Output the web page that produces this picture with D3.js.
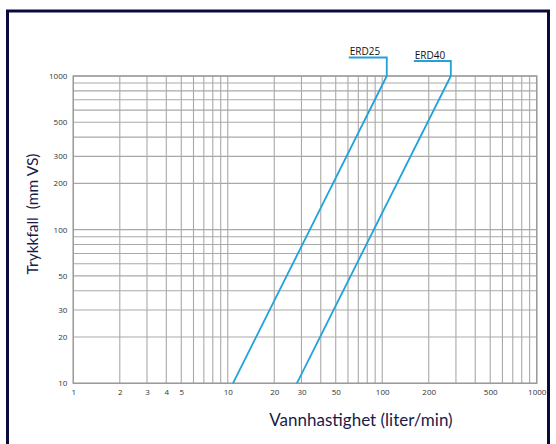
<!DOCTYPE html>
<html><head><meta charset="utf-8">
<script src="https://cdn.jsdelivr.net/npm/d3@7"></script>
<style>html,body{margin:0;padding:0;background:#fff;}svg{display:block;} text{white-space:pre;}</style>
</head><body>
<script>
// ---- data ----
const xTickLabels = [1,2,3,4,5,10,20,30,50,100,200,500,1000];
const yTickLabels = [10,20,30,50,100,200,300,500,1000];
const seriesNames = ["ERD25","ERD40"];
const flowERD25 = [10.8, 107];   // liter/min
const flowERD40 = [28, 278];
const pressure   = [10, 1000];   // mm VS
const xTitle = "Vannhastighet (liter/min)";
const yTitle = "Trykkfall  (mm VS)";

const W = 556, H = 444;
const svg = d3.select("body").append("svg").attr("width", W).attr("height", H);
svg.append("rect").attr("width", W).attr("height", H).attr("fill", "#fff");
// frame
svg.append("rect").attr("x", 7.5).attr("y", 11).attr("width", 541).attr("height", 450)
  .attr("fill", "none").attr("stroke", "#0b0b3b").attr("stroke-width", 3);

const L = 73.3, R = 536.7, T = 76, B = 383.3;
const x = d3.scaleLog().domain([1, 1000]).range([L, R]);
const y = d3.scaleLog().domain([10, 1000]).range([B, T]);

const gridCol = "#a9a9a9";
const g = svg.append("g");
// vertical grid
const xGrid = [];
[1,10,100].forEach(d => { for (let k = 1; k <= 9; k++) xGrid.push(d*k); });
xGrid.push(1000);
g.selectAll(".vx").data(xGrid).enter().append("line")
  .attr("x1", d => x(d)).attr("x2", d => x(d)).attr("y1", T).attr("y2", B)
  .attr("stroke", gridCol).attr("stroke-width", 1.1);
// horizontal grid
const yGrid = [];
[10,100].forEach(d => { for (let k = 1; k <= 9; k++) yGrid.push(d*k); });
yGrid.push(1000);
g.selectAll(".hy").data(yGrid).enter().append("line")
  .attr("x1", L).attr("x2", R).attr("y1", d => y(d)).attr("y2", d => y(d))
  .attr("stroke", gridCol).attr("stroke-width", 1.1);
// frame of plot
g.append("rect").attr("x", L).attr("y", T).attr("width", R - L).attr("height", B - T)
  .attr("fill", "none").attr("stroke", "#9a9a9a").attr("stroke-width", 1.4);

// axes tick labels
const xAxis = d3.axisBottom(x).tickValues(xTickLabels).tickFormat(d3.format("d")).tickSize(0).tickPadding(6);
const xa = svg.append("g").attr("transform", `translate(0,${B})`).call(xAxis);
xa.select(".domain").remove();
xa.selectAll("text").attr("font-family", "Open Sans, sans-serif").attr("font-size", 8).attr("fill", "#333");

const yAxis = d3.axisLeft(y).tickValues(yTickLabels).tickFormat(d3.format("d")).tickSize(0).tickPadding(6);
const ya = svg.append("g").attr("transform", `translate(${L},0)`).call(yAxis);
ya.select(".domain").remove();
ya.selectAll("text").attr("font-family", "Open Sans, sans-serif").attr("font-size", 8).attr("fill", "#333");

// series
const blue = "#22a1dc";
const series = [flowERD25, flowERD40].map((f, i) => ({name: seriesNames[i], pts: f.map((q, j) => [q, pressure[j]])}));
const line = d3.line().x(d => x(d[0])).y(d => y(d[1]));
svg.selectAll(".s").data(series).enter().append("path")
  .attr("d", d => line(d.pts)).attr("fill", "none").attr("stroke", blue).attr("stroke-width", 1.8);

// leader labels
const leaderTop = [57.5, 61];
const leaderLen = [38, 37];
series.forEach((s, i) => {
  const top = s.pts[1];
  const px = x(top[0]), py = y(top[1]);
  svg.append("path")
    .attr("d", `M${px},${py} L${px},${leaderTop[i]} L${px - leaderLen[i]},${leaderTop[i]}`)
    .attr("fill", "none").attr("stroke", blue).attr("stroke-width", 1.8);
  svg.append("text").attr("x", px - leaderLen[i] + 1).attr("y", leaderTop[i] - 2.5)
    .attr("font-family", "Open Sans, sans-serif").attr("font-size", 10).attr("fill", "#111")
    .text(s.name);
});

// titles
svg.append("text").attr("x", 361).attr("y", 426).attr("text-anchor", "middle")
  .attr("font-family", "Lato, sans-serif").attr("font-size", 17).attr("fill", "#1a1a4a").text(xTitle);
svg.append("text").attr("transform", "translate(38,214) rotate(-90)").attr("text-anchor", "middle")
  .attr("font-family", "Lato, sans-serif").attr("font-size", 15.5).attr("fill", "#1a1a4a").text(yTitle);
</script>
</body></html>
